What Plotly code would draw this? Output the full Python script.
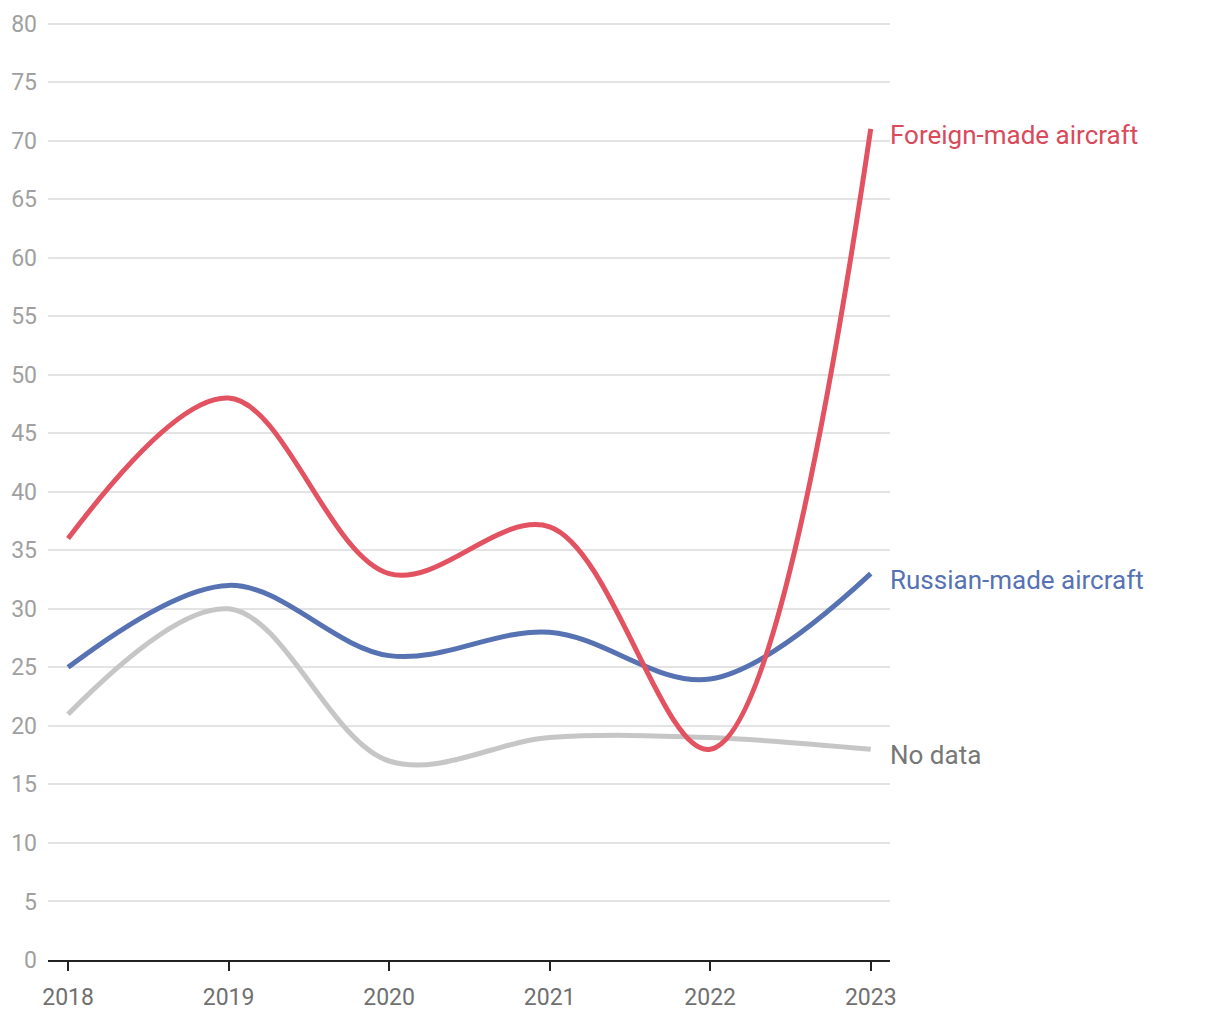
import plotly.graph_objects as go

years = ["2018", "2019", "2020", "2021", "2022", "2023"]
foreign = [36, 48, 33, 37, 18, 71]
russian = [25, 32, 26, 28, 24, 33]
nodata = [21, 30, 17, 19, 19, 18]

series = [
    ("No data", nodata, "#c6c6c6", "#777777"),
    ("Russian-made aircraft", russian, "#5672b2", "#5672b2"),
    ("Foreign-made aircraft", foreign, "#e25261", "#d94a5a"),
]

x_idx = list(range(len(years)))

fig = go.Figure()
for name, vals, col, lcol in series:
    fig.add_trace(go.Scatter(
        x=x_idx, y=vals, mode="lines", name=name,
        line=dict(color=col, width=5, shape="spline", smoothing=1),
        hoverinfo="y+name",
    ))
    fig.add_annotation(
        x=x_idx[-1], y=vals[-1], text=name, xref="x", yref="y",
        xanchor="left", yanchor="middle", showarrow=False, xshift=17, yshift=-6,
        font=dict(family="Roboto", size=26, color=lcol),
    )

fig.update_layout(
    width=1220, height=1020,
    margin=dict(l=48, r=330, t=20, b=60),
    plot_bgcolor="white", paper_bgcolor="white",
    showlegend=False,
    font=dict(family="Roboto"),
)
fig.update_xaxes(
    tickmode="array", tickvals=x_idx, ticktext=years, range=[-0.125, 5.12],
    showline=True, linecolor="#222222", linewidth=2,
    ticks="outside", ticklen=9, tickwidth=2, tickcolor="#222222",
    ticklabelstandoff=6, automargin=False,
    showgrid=False, zeroline=False, tickfont=dict(size=23, color="#707070"),
)
fig.update_yaxes(
    range=[0, 80.3], dtick=5, tick0=0, automargin=False,
    showgrid=True, gridcolor="#e3e3e3", gridwidth=2,
    zeroline=False, showline=False, ticks="",
    ticklabelstandoff=10,
    tickfont=dict(size=23, color="#a0a0a0"),
)

fig.write_html("out.html")
